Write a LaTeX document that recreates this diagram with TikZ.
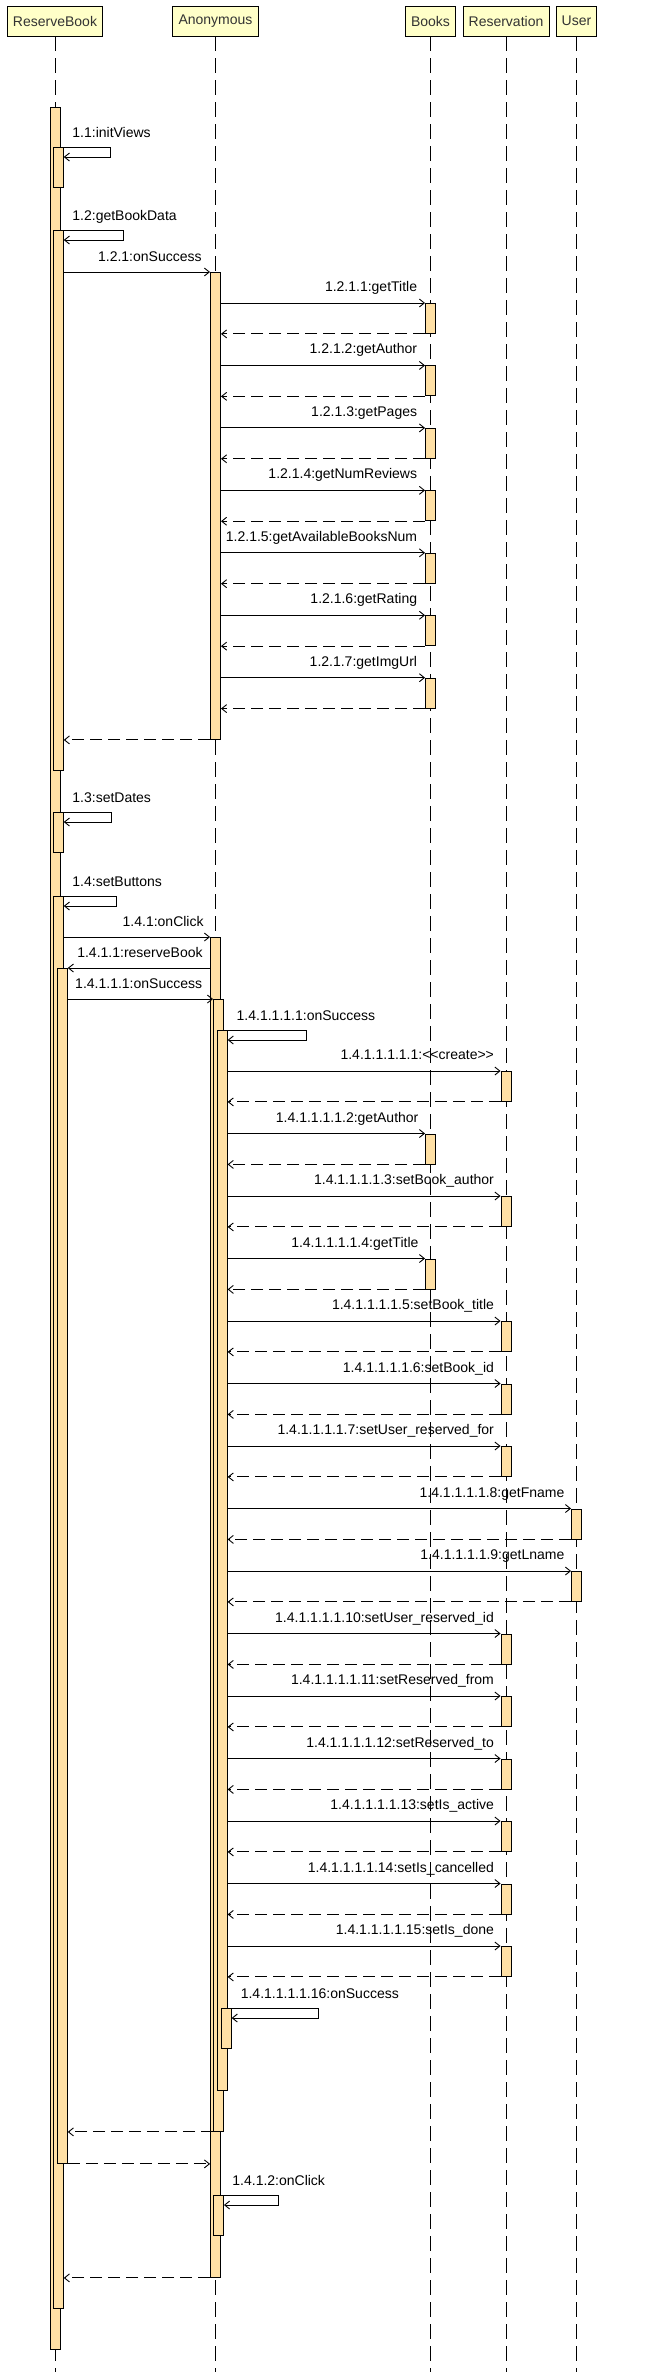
\documentclass[tikz,border=0pt]{standalone}
\usepackage{fontspec}
\setmainfont{Liberation Sans}
\usetikzlibrary{arrows.meta}
\definecolor{headyellow}{RGB}{255,255,200}
\definecolor{actorange}{RGB}{255,224,165}

\tikzset{
  head/.style={draw, fill=headyellow, minimum height=30pt, inner xsep=5.6pt, line width=0.9pt, font=\fontsize{14}{16}\selectfont, text=black!80},
  life/.style={line width=0.9pt, dash pattern=on 15pt off 7pt},
  act/.style={draw, fill=actorange, line width=0.9pt, minimum width=10pt, inner sep=0pt, anchor=north},
  call/.style={-{Straight Barb[length=5pt,width=8pt]}, line width=0.9pt},
  ret/.style={call, dash pattern=on 12pt off 6pt},
  lbl/.style={font=\fontsize{14}{16}\selectfont, inner sep=0pt}
}

\begin{document}
\begin{tikzpicture}[x=1pt, y=-1pt]
  \useasboundingbox (0,0) rectangle (645,2372);

  % Draw the heads and their lifelines
  \node[head] (rb) at (55,21) {ReserveBook};
  \node[head] (an) at (215.5,21) {Anonymous};
  \node[head] (bk) at (430.5,21) {Books};
  \node[head] (rs) at (506,21) {Reservation};
  \node[head] (us) at (576.5,21) {User};
  \foreach \h in {rb, an, bk, rs, us}
    \draw[life] (\h.south) -- (\h |- 0,2372);

  % Activations of ReserveBook
  \node[act, minimum height=2242pt] (rb0) at (55,107) {};
  \node[act, minimum height=40pt] (rb1) at (58.3,147) {};
  \node[act, minimum height=540pt] (rb2) at (58.3,230) {};
  \node[act, minimum height=40pt] (rb3) at (58.3,812) {};
  \node[act, minimum height=1412pt] (rb4) at (58.3,896) {};
  \node[act, minimum height=1195pt] (rb5) at (62.3,968) {};

  % Activations of Anonymous
  \node[act, minimum height=467pt] (an1) at (215.5,272) {};
  \node[act, minimum height=1340pt] (an2) at (215.5,937) {};
  \node[act, minimum height=1132pt] (an3) at (218.5,999) {};
  \node[act, minimum height=1060pt] (an4) at (222.2,1030) {};
  \node[act, minimum height=40pt] (an5) at (226.2,2008) {};
  \node[act, minimum height=40pt] (an6) at (218.5,2195) {};

  % Self calls and the calls between ReserveBook and Anonymous
  \draw[call] (rb0.east |- rb1.north) node[lbl, anchor=base west, xshift=11.5pt, yshift=10pt] {1.1:initViews}
    -- ++(49.5,0) |- ([yshift=-10pt]rb1.north east);
  \draw[call] (rb0.east |- rb2.north) node[lbl, anchor=base west, xshift=11.5pt, yshift=10pt] {1.2:getBookData}
    -- ++(63,0) |- ([yshift=-10pt]rb2.north east);
  \draw[call] (rb2.east |- an1.north) -- (an1.north west) node[lbl, anchor=base east, xshift=-8pt, yshift=11pt] {1.2.1:onSuccess};

  % Calls of Anonymous to Books
  \foreach \k/\m [evaluate=\k as \y using 303+62.45*(\k-1)] in {1/getTitle, 2/getAuthor, 3/getPages, 4/getNumReviews, 5/getAvailableBooksNum, 6/getRating, 7/getImgUrl} {
    \node[act, minimum height=30pt] (b\k) at (bk |- 0,\y) {};
    \draw[call] (an1.east |- b\k.north) -- (b\k.north west) node[lbl, anchor=base east, xshift=-7.5pt, yshift=11.5pt] {1.2.1.\k:\m};
    \draw[ret] (b\k.south west) -- (an1.east |- b\k.south);
  }
  \draw[ret] (an1.south west) -- (rb2.east |- an1.south);

  \draw[call] (rb0.east |- rb3.north) node[lbl, anchor=base west, xshift=11.5pt, yshift=10pt] {1.3:setDates}
    -- ++(51,0) |- ([yshift=-10pt]rb3.north east);
  \draw[call] (rb0.east |- rb4.north) node[lbl, anchor=base west, xshift=11.5pt, yshift=10pt] {1.4:setButtons}
    -- ++(56,0) |- ([yshift=-10pt]rb4.north east);
  \draw[call] (rb4.east |- an2.north) -- (an2.north west) node[lbl, anchor=base east, xshift=-6pt, yshift=11pt] {1.4.1:onClick};
  \draw[call] (an2.west |- rb5.north) node[lbl, anchor=base east, xshift=-7pt, yshift=11pt] {1.4.1.1:reserveBook} -- (rb5.north east);
  \draw[call] (rb5.east |- an3.north) -- (an3.north west) node[lbl, anchor=base east, xshift=-10.5pt, yshift=11pt] {1.4.1.1.1:onSuccess};
  \draw[call] (an3.east |- an4.north) node[lbl, anchor=base west, xshift=12.3pt, yshift=10pt] {1.4.1.1.1.1:onSuccess}
    -- ++(82,0) |- ([yshift=-10pt]an4.north east);

  % Calls of Anonymous to Books, Reservation and User
  \foreach \k/\t/\m [evaluate=\k as \y using 1071+62.5*(\k-1)] in {1/rs/{<}{<}create{>}{>}, 2/bk/getAuthor, 3/rs/setBook\_author, 4/bk/getTitle, 5/rs/setBook\_title, 6/rs/setBook\_id, 7/rs/setUser\_reserved\_for, 8/us/getFname, 9/us/getLname, 10/rs/setUser\_reserved\_id, 11/rs/setReserved\_from, 12/rs/setReserved\_to, 13/rs/setIs\_active, 14/rs/setIs\_cancelled, 15/rs/setIs\_done} {
    \node[act, minimum height=30pt] (m\k) at (\t |- 0,\y) {};
    \draw[call] (an4.east |- m\k.north) -- (m\k.north west) node[lbl, anchor=base east, xshift=-6.2pt, yshift=11.5pt] {1.4.1.1.1.1.\k:\m};
    \draw[ret] (m\k.south west) -- (an4.east |- m\k.south);
  }
  \draw[call] (an4.east |- an5.north) node[lbl, anchor=base west, xshift=12.7pt, yshift=10pt] {1.4.1.1.1.1.16:onSuccess}
    -- ++(91,0) |- ([yshift=-10pt]an5.north east);

  % Returns and the last click
  \draw[ret] (an3.south west) -- (rb5.east |- an3.south);
  \draw[ret] (rb5.south east) -- (an2.west |- rb5.south);
  \draw[call] (an2.east |- an6.north) node[lbl, anchor=base west, xshift=11pt, yshift=10pt] {1.4.1.2:onClick}
    -- ++(57,0) |- ([yshift=-10pt]an6.north east);
  \draw[ret] (an2.south west) -- (rb4.east |- an2.south);
\end{tikzpicture}
\end{document}
